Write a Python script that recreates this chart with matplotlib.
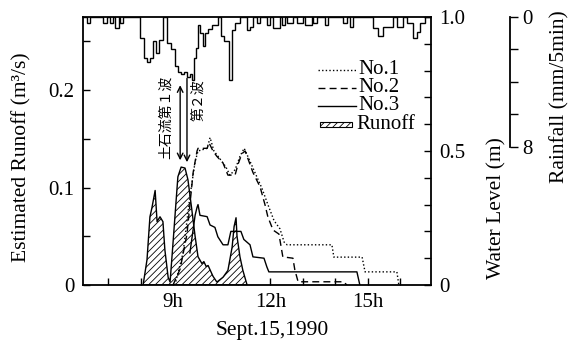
import numpy as np
import matplotlib
matplotlib.use("Agg")
import matplotlib.pyplot as plt
from matplotlib.lines import Line2D
from matplotlib.patches import Rectangle

plt.rcParams['font.family'] = ['Liberation Serif', 'Noto Sans CJK JP']
plt.rcParams['hatch.linewidth'] = 0.6

# Estimated runoff (m3/s), time in hours
runoff_t = [8.08, 8.20, 8.29, 8.35, 8.45, 8.51, 8.60, 8.69, 8.75, 8.85, 8.91,
            9.00, 9.09, 9.15, 9.25, 9.37, 9.46, 9.58, 9.68, 9.77, 9.89, 9.95,
            10.02, 10.08, 10.23, 10.35, 10.54, 10.69, 10.82, 10.88, 10.94,
            10.97, 11.06, 11.15, 11.28]
runoff_q = [0.0, 0.026, 0.070, 0.079, 0.097, 0.065, 0.070, 0.065, 0.036, 0.008, 0.003,
            0.043, 0.084, 0.111, 0.121, 0.120, 0.108, 0.077, 0.050, 0.029, 0.022, 0.024,
            0.019, 0.020, 0.009, 0.003, 0.008, 0.015, 0.039, 0.060, 0.069,
            0.050, 0.029, 0.015, 0.0]

# Water level (m)
no1_t = [9.06, 9.31, 9.52, 9.68, 9.77, 10.05, 10.14, 10.26, 10.45, 10.63, 10.75,
         10.91, 11.06, 11.19, 11.34, 11.52, 11.74, 11.92, 12.11, 12.29, 12.42,
         12.51, 13.89, 13.95, 14.82, 14.91, 15.89, 15.95]
no1_h = [0.0, 0.12, 0.33, 0.46, 0.50, 0.51, 0.55, 0.50, 0.47, 0.44, 0.41,
         0.43, 0.48, 0.51, 0.47, 0.42, 0.36, 0.30, 0.24, 0.21, 0.16,
         0.15, 0.15, 0.104, 0.104, 0.049, 0.049, 0.0]

no2_t = [9.00, 9.22, 9.43, 9.62, 9.74, 9.77, 10.05, 10.11, 10.23, 10.35, 10.54,
         10.69, 10.91, 11.00, 11.12, 11.22, 11.31, 11.46, 11.68, 11.83, 11.92,
         12.08, 12.26, 12.38, 12.69, 12.75, 12.85, 14.25, 14.35]
no2_h = [0.0, 0.06, 0.19, 0.42, 0.50, 0.51, 0.51, 0.53, 0.50, 0.48, 0.455,
         0.41, 0.41, 0.45, 0.49, 0.50, 0.47, 0.42, 0.366, 0.30, 0.254,
         0.205, 0.19, 0.105, 0.10, 0.056, 0.012, 0.012, 0.0]

no3_t = [9.52, 9.68, 9.74, 9.77, 9.83, 10.05, 10.14, 10.29, 10.38, 10.54, 10.69,
         10.78, 11.09, 11.18, 11.37, 11.46, 11.80, 11.89, 11.95, 14.66, 14.75]
no3_h = [0.12, 0.26, 0.29, 0.30, 0.26, 0.255, 0.224, 0.215, 0.18, 0.15, 0.15,
         0.20, 0.20, 0.17, 0.15, 0.105, 0.10, 0.067, 0.049, 0.049, 0.0]

# Rainfall (mm/5min) as steps: start, end, depth
rain_start = [6.35, 6.85, 7.06, 7.22, 7.37,
              7.98, 8.11, 8.20, 8.29, 8.38, 8.48, 8.57,
              8.82, 8.94, 9.06, 9.15, 9.25, 9.34, 9.43, 9.52, 9.58, 9.65, 9.71, 9.77,
              9.83, 9.92, 9.98, 10.08, 10.20,
              10.48, 10.57, 10.72, 10.82, 10.91,
              11.28, 11.37, 11.58, 11.89, 12.08, 12.35, 12.51, 12.82, 13.06, 13.31,
              13.68, 14.23, 14.45, 15.15, 15.31, 15.46, 15.89, 16.20, 16.38, 16.51, 16.60]
rain_end = [6.45, 6.97, 7.15, 7.34, 7.46,
            8.11, 8.20, 8.29, 8.38, 8.48, 8.57, 8.69,
            8.94, 9.06, 9.15, 9.25, 9.34, 9.43, 9.52, 9.58, 9.65, 9.71, 9.77, 9.83,
            9.92, 9.98, 10.08, 10.20, 10.38,
            10.57, 10.72, 10.82, 10.91, 11.06,
            11.37, 11.46, 11.68, 11.98, 12.29, 12.45, 12.69, 13.00, 13.28, 13.43,
            13.77, 14.35, 14.54, 15.31, 15.46, 15.77, 16.08, 16.38, 16.51, 16.60, 16.75]
rain_mm = [0.37, 0.37, 0.37, 0.68, 0.37,
           1.3, 2.5, 2.8, 2.5, 1.5, 2.2, 1.4,
           1.6, 2.0, 3.0, 3.4, 3.5, 3.4, 3.7, 3.5, 3.9, 2.5, 1.9, 0.5,
           1.0, 1.8, 1.0, 0.75, 0.5,
           1.2, 1.5, 3.9, 0.8, 0.37,
           0.8, 0.6, 0.4, 0.5, 0.7, 0.5, 0.4, 0.4, 0.5, 0.4,
           0.5, 0.4, 0.6, 0.7, 1.2, 0.6, 0.6, 0.4, 1.3, 0.9, 0.4]

xmin, xmax = 6.23, 16.94

fig = plt.figure(figsize=(5.73, 3.48), dpi=100)
W, H = 573, 348
ax = fig.add_axes([83 / W, 63 / H, 348 / W, 268 / H])

# runoff (left axis)
ax.fill_between(runoff_t, runoff_q, 0, facecolor='white', edgecolor='k',
                hatch='/////', lw=1.0, zorder=2)
ax.set_xlim(xmin, xmax)
ax.set_ylim(0, 0.275)
ax.set_yticks([0, 0.1, 0.2])
ax.set_yticklabels(['0', '0.1', '0.2'])
ax.set_yticks(np.arange(0, 0.26, 0.05), minor=True)
ax.set_xticks([9, 12, 15])
ax.set_xticklabels(['9h', '12h', '15h'])
ax.set_xticks(np.arange(7, 17, 1), minor=True)
ax.tick_params(which='both', direction='in', length=5, width=1.0, labelsize=15, pad=6)
ax.tick_params(axis='y', which='both', right=False)
for s in ax.spines.values():
    s.set_linewidth(1.3)
ax.spines['right'].set_visible(False)

# water level (right axis)
ax_wl = ax.twinx()
ax_wl.plot(no1_t, no1_h, color='k', lw=1.0, ls=(0, (1, 1.6)))
ax_wl.plot(no2_t, no2_h, color='k', lw=1.0, ls=(0, (5, 3)))
ax_wl.plot(no3_t, no3_h, color='k', lw=1.0)
ax_wl.set_ylim(0, 1.0)
ax_wl.set_yticks([0, 0.5, 1.0])
ax_wl.set_yticklabels(['0', '0.5', '1.0'])
ax_wl.set_yticks(np.arange(0, 1.01, 0.1), minor=True)
ax_wl.tick_params(which='both', direction='in', length=5, width=1.0, labelsize=15, pad=6)
for k in ['left', 'top', 'bottom']:
    ax_wl.spines[k].set_visible(False)
ax_wl.spines['right'].set_linewidth(1.3)

# rainfall (hanging from top)
edges = [xmin]
vals = []
for s, e, v in zip(rain_start, rain_end, rain_mm):
    if s > edges[-1]:
        vals.append(0.0)
        edges.append(s)
    vals.append(v)
    edges.append(e)
vals.append(0.0)
edges.append(xmax)

ax_r = ax.twinx()
ax_r.stairs(vals, edges, baseline=None, color='k', lw=1.0)
ax_r.set_ylim(16.5, 0)
ax_r.set_xlim(xmin, xmax)
for k in ['left', 'top', 'bottom']:
    ax_r.spines[k].set_visible(False)
ax_r.spines['right'].set_position(('axes', (510 - 83) / 348))
ax_r.spines['right'].set_bounds(0, 8)
ax_r.spines['right'].set_linewidth(1.3)
ax_r.set_yticks([0, 2, 4, 6, 8])
ax_r.set_yticklabels(['0', '', '', '', '8'])
ax_r.tick_params(direction='out', length=6, width=1.0, labelsize=15, pad=3)

# annotations
ax.annotate('', xy=(9.22, 0.128), xytext=(9.22, 0.205),
            arrowprops=dict(arrowstyle='<->', lw=1.0, color='k',
                            shrinkA=0, shrinkB=0))
ax.annotate('', xy=(9.43, 0.126), xytext=(9.43, 0.212),
            arrowprops=dict(arrowstyle='->', lw=1.0, color='k',
                            shrinkA=0, shrinkB=0))
ax.text(8.77, 0.172, '土石流第１波', rotation=90, ha='center', va='center',
        fontsize=10, family=['Noto Sans CJK JP'])
ax.text(9.78, 0.19, '第２波', rotation=90, ha='center', va='center',
        fontsize=10, family=['Noto Sans CJK JP'])

# legend drawn by hand
def ax_xy(px, py):
    return (px - 83) / 348, (285 - py) / 268

legend_rows = [('No.1', (0, (1, 1.6))), ('No.2', (0, (5, 3))), ('No.3', '-')]
for i, (lab, ls) in enumerate(legend_rows):
    py = 70 + i * 18
    x0, y0 = ax_xy(318, py)
    x1, _ = ax_xy(356, py)
    ax.add_line(Line2D([x0, x1], [y0, y0], transform=ax.transAxes,
                       color='k', lw=1.0, ls=ls))
    tx, _ = ax_xy(358, py)
    ax.text(tx, y0, lab, transform=ax.transAxes, ha='left', va='center', fontsize=15)
x0, y0 = ax_xy(320, 127)
x1, y1 = ax_xy(352, 122)
ax.add_patch(Rectangle((x0, y0), x1 - x0, y1 - y0, transform=ax.transAxes,
                       facecolor='white', edgecolor='k', hatch='/////', lw=0.8))
tx, _ = ax_xy(356, 124)
ax.text(tx, (y0 + y1) / 2, 'Runoff', transform=ax.transAxes, ha='left', va='center',
        fontsize=15)

# axis titles
fig.text(22 / W, 1 - 157 / H, 'Estimated Runoff (m³/s)', rotation=90,
         ha='center', va='center', fontsize=15.5)
fig.text(497 / W, 1 - 208 / H, 'Water Level (m)', rotation=90,
         ha='center', va='center', fontsize=15.5)
fig.text(560 / W, 1 - 97 / H, 'Rainfall (mm/5min)', rotation=90,
         ha='center', va='center', fontsize=15.5)
fig.text(272 / W, 1 - 330 / H, 'Sept.15,1990', ha='center', va='center', fontsize=15.5)

fig.savefig('out.png', dpi=100)
